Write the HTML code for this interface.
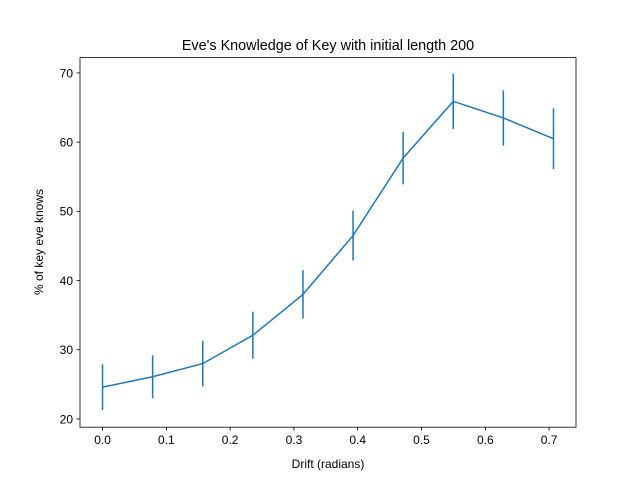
<!DOCTYPE html>
<html><head><meta charset="utf-8"><style>
body{margin:0;background:#fff}
text{font-family:"Liberation Sans","DejaVu Sans",sans-serif;fill:#000}
</style></head><body>
<svg id="chart" width="640" height="480" xmlns="http://www.w3.org/2000/svg">
<rect width="640" height="480" fill="#fff"/>
<text x="328" y="50" text-anchor="middle" font-size="14.4">Eve's Knowledge of Key with initial length 200</text>
<text x="328" y="468" text-anchor="middle" font-size="12">Drift (radians)</text>
<text transform="translate(43,242) rotate(-90)" text-anchor="middle" font-size="12">% of key eve knows</text>
<g id="ticks"></g>
<g id="marks"></g>
<rect x="80" y="57.6" width="496" height="369.6" fill="none" stroke="#000" stroke-width="0.8"/>
</svg>
<script>
const xValues = [0, 0.0785, 0.1571, 0.2356, 0.3142, 0.3927, 0.4712, 0.5498, 0.6283, 0.7069];
const yValues = [24.6, 26.1, 28.0, 32.1, 38.0, 46.5, 57.7, 65.9, 63.5, 60.5];
const yErrors = [3.3, 3.1, 3.3, 3.4, 3.5, 3.6, 3.8, 4.0, 4.0, 4.4];
const xTicks = [0, 0.1, 0.2, 0.3, 0.4, 0.5, 0.6, 0.7];
const xTickLabels = ["0.0","0.1","0.2","0.3","0.4","0.5","0.6","0.7"];
const yTicks = [20, 30, 40, 50, 60, 70];
const yTickLabels = ["20","30","40","50","60","70"];

const NS = "http://www.w3.org/2000/svg";
const L=80,R=576,T=57.6,B=427.2;
const xmin=-0.03534,xmax=0.7422,ymin=18.81,ymax=72.22;
const sx=v=>L+(v-xmin)/(xmax-xmin)*(R-L);
const sy=v=>B-(v-ymin)/(ymax-ymin)*(B-T);
function mk(tag,attrs,parent){const e=document.createElementNS(NS,tag);for(const k in attrs)e.setAttribute(k,attrs[k]);parent.appendChild(e);return e;}
const tg=document.getElementById('ticks'), mg=document.getElementById('marks');
xTicks.forEach((t,i)=>{
  const l=mk('line',{x1:sx(t),x2:sx(t),y1:B,y2:B+3.5,stroke:'#000','stroke-width':0.8},tg);
  
  
  const tx=mk('text',{x:sx(t),y:B+17,'text-anchor':'middle','font-size':12},tg);
  tx.textContent=xTickLabels[i];
  
  
});
yTicks.forEach((t,i)=>{
  const l=mk('line',{x1:L-3.5,x2:L,y1:sy(t),y2:sy(t),stroke:'#000','stroke-width':0.8},tg);
  
  
  const tx=mk('text',{x:L-7,y:sy(t)+4.3,'text-anchor':'end','font-size':12},tg);
  tx.textContent=yTickLabels[i];
  
  
});
const pts=xValues.map((x,i)=>sx(x)+','+sy(yValues[i])).join(' ');
const line=mk('polyline',{points:pts,fill:'none',stroke:'#1f77b4','stroke-width':1.5},mg);


xValues.forEach((x,i)=>{
  const e=mk('line',{x1:sx(x),x2:sx(x),y1:sy(yValues[i]-yErrors[i]),y2:sy(yValues[i]+yErrors[i]),stroke:'#1f77b4','stroke-width':1.5},mg);
  
  
});
</script>
</body></html>
